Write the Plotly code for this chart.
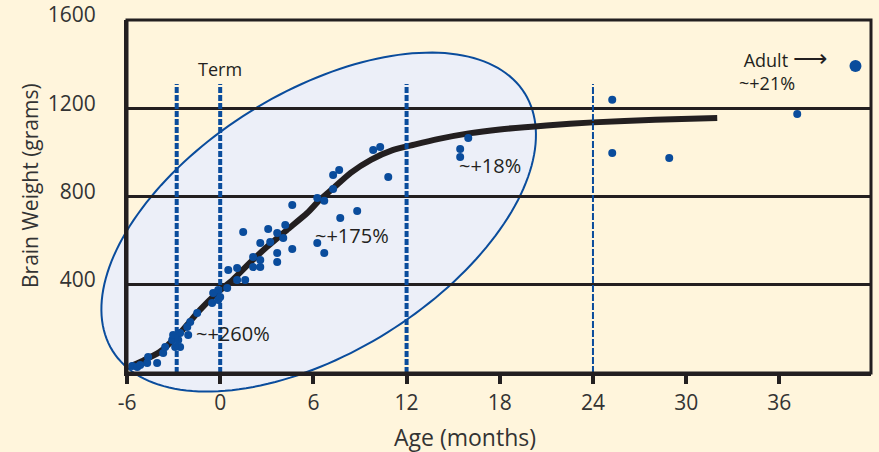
import numpy as np
import plotly.graph_objects as go

# Brain weight vs. age, from mid-gestation to adulthood
curve_age = [-5.8, -5.0, -3.9, -2.6, -1.3, -0.2, 0.8, 1.9, 3.0, 4.3, 5.6, 6.4, 7.3,
             8.4, 9.7, 11.1, 12.5, 14.0, 16.0, 18.0, 21.0, 24.0, 28.0, 32.0]
curve_weight = [30, 55, 95, 181, 286, 363, 422, 499, 571, 648, 725, 784, 839,
                907, 966, 1010, 1035, 1060, 1086, 1104, 1122, 1136, 1148, 1156]

obs_age = [-5.67, -5.34, -5.15, -4.70, -4.64, -4.06, -3.67, -3.54, -3.09, -2.70,
           -2.90, -2.58, -3.03, -2.58, -2.06, -2.12, -1.93, -1.48, -0.52, -0.13,
           0.00, -0.45, -0.13, 0.45, 1.09, 1.61, 0.52, 1.09, 2.12, 2.58,
           2.12, 2.58, 3.67, 3.67, 2.58, 3.22, 4.06, 4.64, 3.67, 3.09,
           4.19, 1.48, 6.25, 6.70, 4.64, 7.73, 8.82, 6.25, 6.70, 7.27,
           7.66, 7.27, 9.85, 10.30, 10.82, 15.45, 15.45, 15.97, 25.24, 25.24,
           28.91, 37.15]
obs_weight = [32, 27, 36, 45, 73, 45, 91, 118, 150, 150,
              118, 118, 172, 181, 172, 209, 231, 272, 317, 331,
              345, 363, 376, 385, 422, 422, 467, 476, 480, 480,
              526, 512, 503, 544, 589, 594, 612, 562, 635, 653,
              671, 639, 589, 544, 762, 703, 734, 793, 781, 898,
              920, 834, 1011, 1024, 888, 1015, 979, 1065, 1238, 997,
              975, 1174]

adult_age = [40.9]
adult_weight = [1392]

milestones = [-2.8, 0, 12, 24]
x_ticks = [-6, 0, 6, 12, 18, 24, 30, 36]
x_labels = ["-6", "0", "6", "12", "18", "24", "30", "36"]
y_ticks = [400, 800, 1200, 1600]

X_RANGE = [-6, 41.9]
Y_RANGE = [0, 1600]
PLOT_W, PLOT_H = 744, 353

BG = "#FFF5DC"
BLUE = "#0A4C9C"
INK = "#231F20"
LABEL = "#333333"
FONT = "Open Sans"

# growth-phase ellipse: built in screen pixels, placed in paper units so it
# can spill past the frame
cx, cy = 6.34, 684
semi_a, semi_b, tilt = 243, 130, np.radians(32)
t = np.linspace(0, 2 * np.pi, 181)
ex = semi_a * np.cos(t) * np.cos(tilt) - semi_b * np.sin(t) * np.sin(tilt)
ey = semi_a * np.cos(t) * np.sin(tilt) + semi_b * np.sin(t) * np.cos(tilt)
pcx = (cx - X_RANGE[0]) / (X_RANGE[1] - X_RANGE[0])
pcy = (cy - Y_RANGE[0]) / (Y_RANGE[1] - Y_RANGE[0])
ell_x = pcx + ex / PLOT_W
ell_y = pcy + ey / PLOT_H
ell_path = "M " + " L ".join(f"{a:.5f},{b:.5f}" for a, b in zip(ell_x, ell_y)) + " Z"

fig = go.Figure()

fig.add_trace(go.Scatter(
    x=curve_age, y=curve_weight, mode="lines",
    line=dict(color=INK, width=6, shape="spline", smoothing=0.6),
    hoverinfo="skip", showlegend=False))

fig.add_trace(go.Scatter(
    x=obs_age, y=obs_weight, mode="markers",
    marker=dict(color=BLUE, size=8), showlegend=False))

fig.add_trace(go.Scatter(
    x=adult_age, y=adult_weight, mode="markers",
    marker=dict(color=BLUE, size=12), showlegend=False))

shapes = [dict(type="path", path=ell_path, xref="paper", yref="paper", layer="below",
               fillcolor="#ECEFF8", line=dict(color=BLUE, width=2))]
for m in milestones:
    thin = m == 24
    shapes.append(dict(type="line", xref="x", yref="y", x0=m, x1=m, y0=0, y1=1310,
                       layer="above",
                       line=dict(color=BLUE, width=2 if thin else 4,
                                 dash="7px,2px" if thin else "6px,2px")))
# frame around the plotting area
shapes.append(dict(type="rect", xref="paper", yref="paper", x0=0, x1=1, y0=0, y1=1,
                   layer="above", line=dict(color=INK, width=3)))

txt = dict(family=FONT, size=20, color=INK)
annotations = [
    dict(x=0, y=1380, text="Term", showarrow=False,
         font=dict(family=FONT, size=18, color=INK)),
    dict(x=0.85, y=180, text="~+260%", showarrow=False, font=txt),
    dict(x=8.5, y=625, text="~+175%", showarrow=False, font=txt),
    dict(x=17.4, y=940, text="~+18%", showarrow=False, font=txt),
    dict(x=33.35, y=1384, showarrow=False,
         text="&nbsp;Adult <span style='font-size:24px'>⟶</span><br>~+21%",
         xanchor="left", yanchor="middle", align="left", borderpad=0,
         font=dict(family=FONT, size=18, color=INK)),
    # axis titles
    dict(xref="paper", yref="paper", x=(465 - 127) / PLOT_W, y=-(437 - 373) / PLOT_H,
         text="Age (months)", showarrow=False, yanchor="middle",
         font=dict(family=FONT, size=23, color=LABEL)),
    dict(xref="paper", yref="paper", x=-(127 - 30) / PLOT_W, y=(373 - 186) / PLOT_H,
         text="Brain Weight (grams)", showarrow=False, textangle=-90,
         xanchor="center", yanchor="middle",
         font=dict(family=FONT, size=21, color=LABEL)),
]

fig.update_layout(
    width=879, height=452,
    margin=dict(l=127, r=8, t=20, b=79, autoexpand=False),
    paper_bgcolor=BG, plot_bgcolor=BG,
    font=dict(family=FONT, size=21, color=LABEL),
    shapes=shapes, annotations=annotations,
    xaxis=dict(range=X_RANGE, tickvals=x_ticks, ticktext=x_labels, ticks="outside",
               ticklen=8, tickwidth=4, tickcolor=INK, showgrid=False, zeroline=False,
               showline=True, linecolor=INK, linewidth=3, ticklabelstandoff=1,
               automargin=False),
    yaxis=dict(range=Y_RANGE, tickvals=y_ticks, ticks="", showgrid=True,
               gridcolor=INK, gridwidth=3, zeroline=False, showline=True,
               linecolor=INK, linewidth=3, ticklabelstandoff=24, ticklabelshift=-5,
               automargin=False),
)

fig.write_html("out.html")
